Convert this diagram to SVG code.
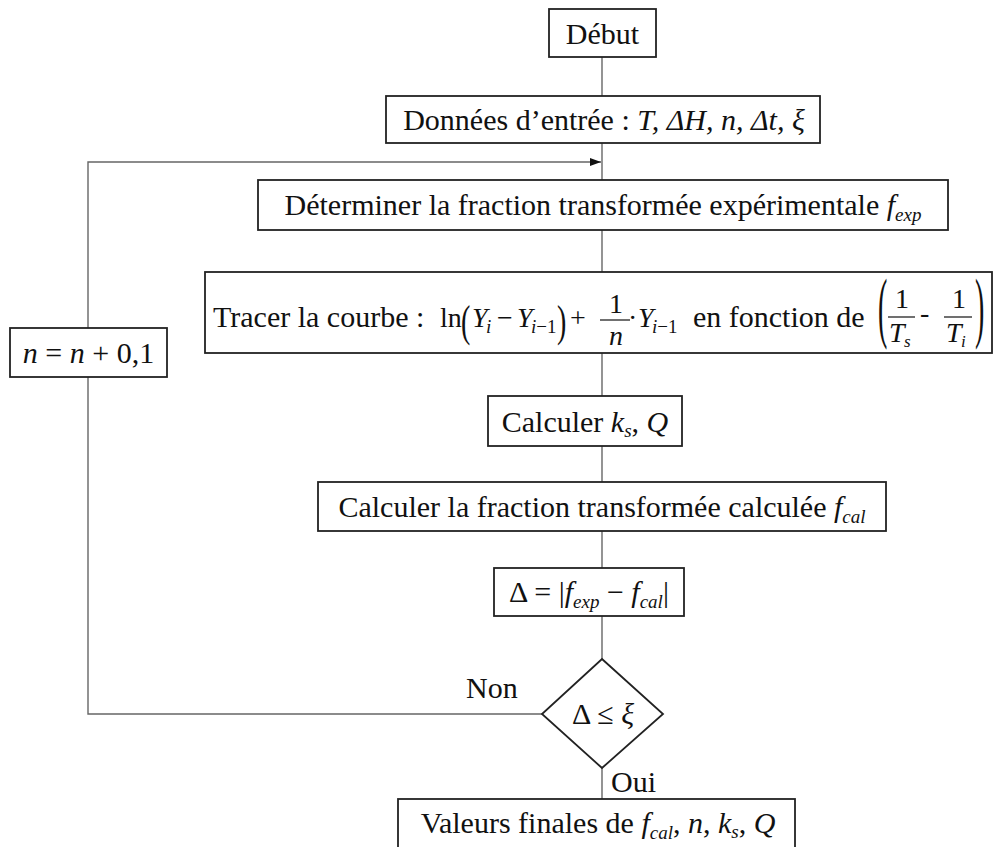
<svg xmlns="http://www.w3.org/2000/svg" width="1003" height="847" viewBox="0 0 1003 847">
<style>
text{font-family:"Liberation Serif","Times New Roman",serif;font-size:30px;fill:#111}
.box{fill:#fff;stroke:#222;stroke-width:1.8}
.ln{stroke:#666;stroke-width:1.4;fill:none}
.bar{stroke:#111;stroke-width:1.2}
.i{font-style:italic}
.m{font-size:28px}
.s{font-size:19px}
.ss{font-size:17px}
</style>
<defs>
<marker id="ah" markerWidth="11" markerHeight="8" refX="11" refY="4" orient="auto" markerUnits="userSpaceOnUse">
<path d="M0,0 L11,4 L0,8 Z" fill="#111"/>
</marker>
</defs>
<rect width="1003" height="847" fill="#fff"/>
<g id="connectors">
<line class="ln" x1="602" y1="57" x2="602" y2="96"/>
<line class="ln" x1="602" y1="143" x2="602" y2="180"/>
<line class="ln" x1="602" y1="230" x2="602" y2="272"/>
<line class="ln" x1="602" y1="353" x2="602" y2="396"/>
<line class="ln" x1="602" y1="446" x2="602" y2="482"/>
<line class="ln" x1="602" y1="531" x2="602" y2="568"/>
<line class="ln" x1="602" y1="616" x2="602" y2="659"/>
<line class="ln" x1="602" y1="768" x2="602" y2="799"/>
<polyline class="ln" points="542,714 88,714 88,162 601,162" marker-end="url(#ah)"/>
<text x="466" y="698">Non</text>
<text x="611" y="792">Oui</text>
</g>
<g id="debut">
<rect class="box" x="549" y="9" width="107" height="48"/>
<text x="602.5" y="44" text-anchor="middle">Début</text>
</g>
<g id="donnees">
<rect class="box" x="386" y="96" width="434" height="47"/>
<text x="604" y="130" text-anchor="middle">Données d’entrée : <tspan class="i">T, ΔH, n, Δt, ξ</tspan></text>
</g>
<g id="determiner">
<rect class="box" x="258" y="180" width="690" height="50"/>
<text x="603" y="215" text-anchor="middle">Déterminer la fraction transformée expérimentale <tspan class="i">f</tspan><tspan class="i s" dy="6">exp</tspan></text>
</g>
<g id="tracer">
<rect class="box" x="205" y="272" width="787" height="81"/>
<text x="213" y="327">Tracer la courbe :</text>
<text class="m" x="440" y="327">ln</text>
<text class="m" transform="translate(461,336) scale(1,1.55)">(</text>
<text class="m i" x="472" y="327">Y</text>
<text class="s i" x="486" y="333">i</text>
<text class="m" x="497" y="327">−</text>
<text class="m i" x="517" y="327">Y</text>
<text class="s i" x="531" y="333">i<tspan font-style="normal">−1</tspan></text>
<text class="m" transform="translate(557,336) scale(1,1.55)">)</text>
<text class="m" x="570" y="327">+</text>
<text class="m" x="609" y="313">1</text>
<line class="bar" x1="600" y1="320" x2="630" y2="320"/>
<text class="m i" x="609" y="345">n</text>
<text class="m" x="628" y="327">·</text>
<text class="m i" x="638" y="327">Y</text>
<text class="s i" x="652" y="333">i<tspan font-style="normal">−1</tspan></text>
<text x="693" y="327">en fonction de</text>
<text class="m" transform="translate(878,333) scale(1,2.8)">(</text>
<text class="m" x="895" y="308">1</text>
<line class="bar" x1="888" y1="317" x2="915" y2="317"/>
<text class="m i" x="889" y="342">T</text>
<text class="ss i" x="904" y="347">s</text>
<text class="m" x="920" y="322" font-size="22">-</text>
<text class="m" x="952" y="308">1</text>
<line class="bar" x1="944" y1="317" x2="972" y2="317"/>
<text class="m i" x="946" y="342">T</text>
<text class="ss i" x="961" y="347">i</text>
<text class="m" transform="translate(975,333) scale(1,2.8)">)</text>
</g>
<g id="nbox">
<rect class="box" x="10" y="328" width="157" height="49"/>
<text x="88.5" y="363" text-anchor="middle"><tspan class="i">n</tspan> = <tspan class="i">n</tspan> + 0,1</text>
</g>
<g id="calculerks">
<rect class="box" x="488" y="396" width="194" height="50"/>
<text x="585" y="432" text-anchor="middle">Calculer <tspan class="i">k</tspan><tspan class="i s" dy="5">s</tspan><tspan dy="-5">, </tspan><tspan class="i">Q</tspan></text>
</g>
<g id="calculerf">
<rect class="box" x="318" y="482" width="568" height="49"/>
<text x="602" y="517" text-anchor="middle">Calculer la fraction transformée calculée <tspan class="i">f</tspan><tspan class="i s" dy="6">cal</tspan></text>
</g>
<g id="delta">
<rect class="box" x="494" y="568" width="190" height="48"/>
<text x="589" y="602" text-anchor="middle">Δ = |<tspan class="i">f</tspan><tspan class="i s" dy="6">exp</tspan><tspan dy="-6"> − </tspan><tspan class="i">f</tspan><tspan class="i s" dy="6">cal</tspan><tspan dy="-6">|</tspan></text>
</g>
<g id="decision">
<polygon class="box" points="602,659 663,714 602,768 542,714"/>
<text x="603" y="724" text-anchor="middle" font-size="28">Δ ≤ <tspan class="i">ξ</tspan></text>
</g>
<g id="valeurs">
<rect class="box" x="398" y="799" width="397" height="50"/>
<text x="598" y="833" text-anchor="middle">Valeurs finales de <tspan class="i">f</tspan><tspan class="i s" dy="6">cal</tspan><tspan dy="-6">, </tspan><tspan class="i">n</tspan>, <tspan class="i">k</tspan><tspan class="i s" dy="5">s</tspan><tspan dy="-5">, </tspan><tspan class="i">Q</tspan></text>
</g>
</svg>
